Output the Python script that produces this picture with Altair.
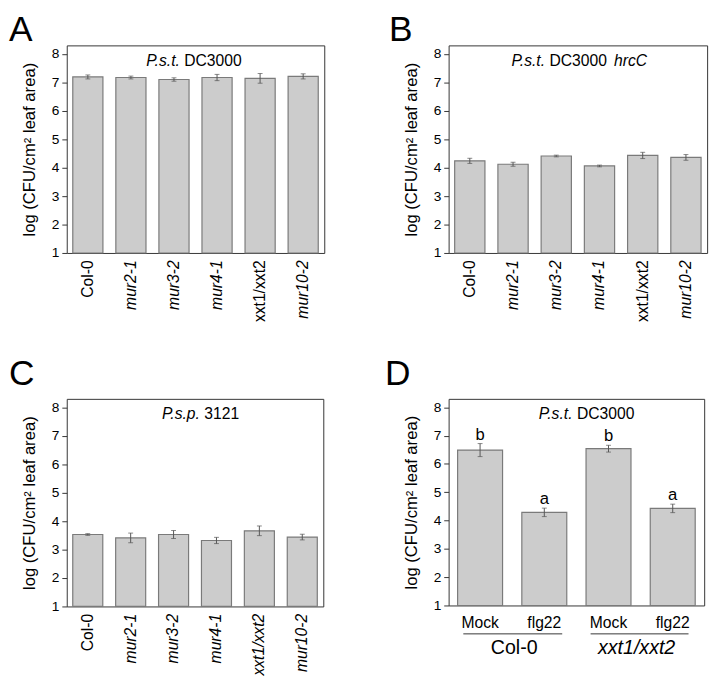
import altair as alt
import pandas as pd

FONT = "Liberation Sans"
YTITLE = "log (CFU/cm\u00b2 leaf area)"

# ---- data ----
genotypes = ["Col-0", "mur2-1", "mur3-2", "mur4-1", "xxt1/xxt2", "mur10-2"]
a_mean = [7.19, 7.17, 7.10, 7.17, 7.14, 7.21]
a_err = [0.07, 0.05, 0.06, 0.11, 0.17, 0.09]
b_mean = [4.24, 4.12, 4.41, 4.06, 4.43, 4.36]
b_err = [0.09, 0.07, 0.03, 0.03, 0.11, 0.10]
c_mean = [3.53, 3.41, 3.53, 3.32, 3.66, 3.44]
c_err = [0.03, 0.17, 0.14, 0.11, 0.17, 0.10]

d_ids = ["Col-0 Mock", "Col-0 flg22", "xxt1/xxt2 Mock", "xxt1/xxt2 flg22"]
d_labels = ["Mock", "flg22", "Mock", "flg22"]
d_mean = [6.49, 4.29, 6.54, 4.43]
d_err = [0.23, 0.15, 0.12, 0.15]
d_letters = ["b", "a", "b", "a"]
d_groups = ["Col-0", "xxt1/xxt2"]

y_ticks = [1, 2, 3, 4, 5, 6, 7, 8]

BAR_FILL = "#cccccc"
BAR_STROKE = "#7a7a7a"
ERR_COLOR = "#555555"
FRAME = "#333333"


def make_df(cats, means, errs):
    return pd.DataFrame({
        "g": cats,
        "m": means,
        "lo": [m - e for m, e in zip(means, errs)],
        "hi": [m + e for m, e in zip(means, errs)],
    })


def y_enc(field):
    return alt.Y(
        field,
        type="quantitative",
        scale=alt.Scale(domain=[1, 8.3], nice=False, zero=False),
        axis=alt.Axis(values=y_ticks, labelFontSize=14, tickSize=5, labelPadding=3,
                      titleFontSize=17, titlePadding=13, titleFontWeight="normal",
                      grid=False, domain=False, tickColor=FRAME, labelColor="black",
                      titleColor="black"),
        title=YTITLE,
    )


def one_text(txt, px, py, size, style="normal", align="left"):
    return alt.Chart(pd.DataFrame({"t": [txt]})).mark_text(
        font=FONT, fontSize=size, fontStyle=style, align=align,
        baseline="alphabetic", color="black"
    ).encode(x=alt.value(px), y=alt.value(py), text="t:N")


def panel(df, cats, width, height, letter, letter_x, letter_y, title_parts,
          x_axis, extra_layers=None):
    x = alt.X("g:N", sort=cats, title=None,
              scale=alt.Scale(paddingInner=0.3, paddingOuter=0.14), axis=x_axis)
    base = alt.Chart(df)
    bars = base.mark_bar(fill=BAR_FILL, stroke=BAR_STROKE, strokeWidth=1.2).encode(
        x=x, y=y_enc("m"), y2=alt.datum(1))
    rule = base.mark_rule(color=ERR_COLOR, strokeWidth=1).encode(
        x=x, y=y_enc("lo"), y2="hi:Q")
    cap_lo = base.mark_tick(color=ERR_COLOR, thickness=1, size=5).encode(x=x, y=y_enc("lo"))
    cap_hi = base.mark_tick(color=ERR_COLOR, thickness=1, size=5).encode(x=x, y=y_enc("hi"))
    layers = [bars, rule, cap_lo, cap_hi]
    for txt, style, align, px in title_parts:
        layers.append(one_text(txt, px, 21, 16, style, align))
    layers.append(one_text(letter, letter_x, letter_y, 36))
    if extra_layers:
        layers += extra_layers(x)
    return alt.layer(*layers).properties(width=width, height=height)


def rot_axis(upright):
    test = " || ".join(["datum.value == '%s'" % u for u in upright])
    return alt.Axis(labelAngle=270, labelFontSize=16, ticks=False, domain=False,
                    labelPadding=7, labelColor="black",
                    labelFontStyle={"condition": {"test": test, "value": "normal"},
                                    "value": "italic"})


dfA = make_df(genotypes, a_mean, a_err)
dfB = make_df(genotypes, b_mean, b_err)
dfC = make_df(genotypes, c_mean, c_err)
dfD = make_df(d_ids, d_mean, d_err)
dfD["letter"] = d_letters

chartA = panel(dfA, genotypes, 263, 212, "A", -59, -4,
               [("P.s.t.", "italic", "right", 115.5), ("DC3000", "normal", "left", 120)],
               rot_axis(["Col-0", "xxt1/xxt2"]))
chartB = panel(dfB, genotypes, 264, 212, "B", -61, -4,
               [("P.s.t.", "italic", "right", 98.5), ("DC3000", "normal", "left", 103),
                ("hrcC", "italic", "left", 169)],
               rot_axis(["Col-0", "xxt1/xxt2"]))
chartC = panel(dfC, genotypes, 262, 212, "C", -59, -14,
               [("P.s.p.", "italic", "right", 136), ("3121", "normal", "left", 140.5)],
               rot_axis(["Col-0"]))

d_label_expr = "{" + ", ".join("'%s': '%s'" % (i, l) for i, l in zip(d_ids, d_labels)) + "}[datum.value]"
d_axis = alt.Axis(labelAngle=0, labelFontSize=16, ticks=False, domain=False, labelPadding=10,
                  labelColor="black", labelExpr=d_label_expr)


def d_extra(x):
    letters = alt.Chart(dfD).mark_text(font=FONT, fontSize=17, dy=-4, baseline="alphabetic",
                                       color="black").encode(x=x, y=y_enc("hi"), text="letter:N")
    H = 211
    lines = []
    for x1, x2 in [(15, 116), (145, 245)]:
        lines.append(alt.Chart(pd.DataFrame({"a": [0]})).mark_rule(color=FRAME, strokeWidth=1).encode(
            x=alt.value(x1), x2=alt.value(x2), y=alt.value(H + 29)))
    grp = [one_text(d_groups[0], 67, H + 50, 20, "normal", "center"),
           one_text(d_groups[1], 192, H + 50, 20, "italic", "center")]
    return [letters] + lines + grp


chartD = panel(dfD, d_ids, 261, 211, "D", -65, -14,
               [("P.s.t.", "italic", "right", 126.5), ("DC3000", "normal", "left", 131)],
               d_axis, extra_layers=d_extra)

chart = alt.concat(
    chartA, chartB, chartC, chartD, columns=2,
    spacing={"row": 149, "column": 127}, bounds="flush",
).properties(
    padding={"left": 0, "top": -3, "right": 5, "bottom": 0},
).configure(
    font=FONT, background="white"
).configure_view(
    stroke=FRAME, strokeWidth=1
).configure_axis(
    labelFont=FONT, titleFont=FONT
)

chart.save("out.html", embed_options={"renderer": "svg", "actions": False})
